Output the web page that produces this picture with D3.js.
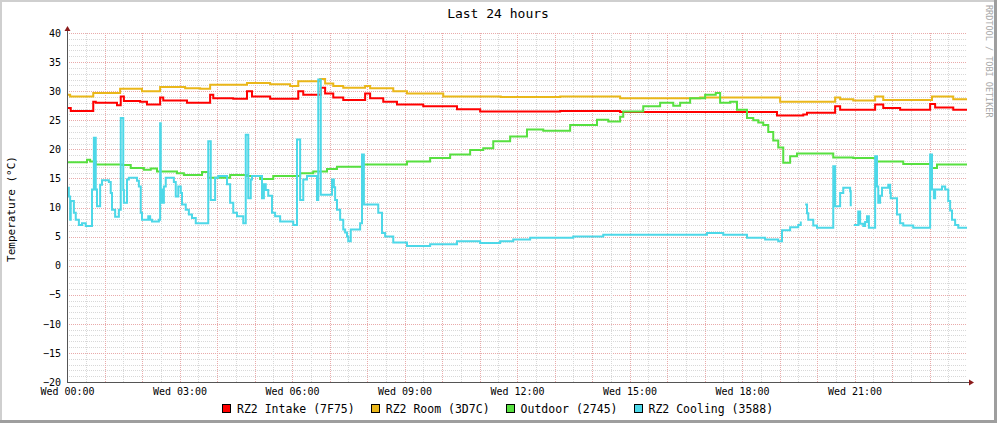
<!DOCTYPE html>
<html>
<head>
<meta charset="utf-8">
<script src="https://cdn.jsdelivr.net/npm/d3@7"></script>
<style>
  html, body { margin: 0; padding: 0; background: #fff; }
  svg text { font-family: "DejaVu Sans Mono", monospace; }
</style>
</head>
<body>
<svg id="chart" width="997" height="423"></svg>
<script>
// ---------------- DATA ----------------
// times in minutes after Wed 00:00
const title = "Last 24 hours";
const yAxisTitle = "Temperature (°C)";
const sideText = "RRDTOOL / TOBI OETIKER";
const seriesNames = ["RZ2 Intake (7F75)", "RZ2 Room (3D7C)", "Outdoor (2745)", "RZ2 Cooling (3588)"];
const yTickValues = [-20, -15, -10, -5, 0, 5, 10, 15, 20, 25, 30, 35, 40];
const xTickHours = [0, 3, 6, 9, 12, 15, 18, 21];

const intakeT = [0,6,42,46,80,86,91,117,128,149,154,192,213,229,234,266,288,296,325,370,378,406,413,426,442,477,485,506,528,570,624,661,725,789,853,885,1013,1136,1178,1184,1229,1237,1293,1306,1333,1381,1389,1418,1440];
const intakeV = [27.1,26.6,28.2,28.0,27.6,29.1,28.3,28.2,27.7,28.9,28.4,28.0,28.0,29.4,28.8,28.7,30.0,29.1,28.7,30.0,29.4,30.6,29.6,28.9,28.5,29.6,28.8,28.2,27.7,27.4,26.9,26.5,26.5,26.6,26.6,26.4,26.4,25.8,26.0,26.3,27.4,26.8,27.7,27.1,26.8,27.8,27.2,26.8,26.8];

const roomT = [0,5,42,85,120,149,189,213,229,288,325,357,370,405,413,426,442,477,485,522,544,602,694,789,885,1013,1141,1229,1237,1258,1293,1306,1384,1418,1440];
const roomV = [29.4,29.1,29.7,30.4,30.0,30.7,30.5,30.4,31.1,31.4,31.2,30.9,31.7,32.1,31.3,30.9,30.6,30.9,30.5,30.0,29.6,29.1,29.0,29.1,28.8,28.9,28.2,28.9,28.6,28.4,29.1,28.5,29.1,28.6,28.6];

const outdoorT = [0,32,37,46,88,102,123,134,144,176,187,216,226,261,288,309,330,373,394,416,432,474,544,581,613,645,666,682,709,736,762,805,848,866,885,890,922,949,970,981,997,1021,1038,1045,1061,1072,1088,1098,1106,1114,1122,1130,1138,1146,1157,1168,1226,1258,1296,1338,1384,1392,1440];
const outdoorV = [17.8,18.2,17.9,17.4,17.3,16.8,16.5,16.7,16.2,15.9,15.6,16.1,15.1,15.6,15.4,14.9,15.4,15.9,16.2,16.6,17.0,17.4,17.9,18.5,19.1,19.9,20.2,21.4,22.2,23.4,23.2,24.2,25.1,24.8,25.6,26.5,27.4,28.0,27.5,28.0,28.8,29.4,29.7,28.0,28.2,26.8,25.4,25.0,24.6,24.2,23.0,21.5,20.3,17.7,18.8,19.3,18.6,18.5,17.9,17.5,16.8,17.4,17.4];

const coolingT = [0,3,5,6,11,14,19,24,30,40,43,46,48,53,56,67,70,72,77,83,86,90,91,96,99,112,115,118,120,130,133,136,147,149,150,152,155,158,171,174,178,182,184,190,195,200,206,226,230,237,242,256,261,266,272,282,286,290,294,296,312,315,318,322,328,333,341,362,368,373,378,384,400,402,406,424,427,429,432,437,442,445,448,450,454,469,472,475,498,504,509,522,544,581,624,661,693,714,741,810,858,1024,1050,1088,1117,1138,1144,1157,1170,1174,1178,1181,1184,1186,1194,1200,1226,1229,1237,1242,1253,1254,1256,1259,1266,1269,1274,1277,1280,1283,1293,1296,1298,1301,1304,1314,1317,1318,1328,1333,1338,1354,1381,1384,1387,1389,1400,1405,1410,1413,1416,1421,1426,1440];
const coolingV = [13.4,11.9,7.9,11.1,9.1,7.9,7.0,7.3,6.8,13.1,22.0,13.1,10.2,13.9,14.7,14.4,12.5,9.6,8.4,9.6,25.4,13.0,10.8,14.8,15.1,14.6,13.6,9.1,7.9,8.5,7.9,7.6,7.9,24.5,13.1,10.8,13.6,15.1,14.4,11.9,13.6,12.5,10.5,9.6,8.8,8.2,7.3,21.4,11.3,15.1,15.4,14.0,10.8,9.1,8.5,7.3,22.5,11.6,14.8,15.4,11.6,14.0,13.0,12.0,9.1,8.5,7.6,7.0,21.7,11.3,14.8,15.4,11.3,32.0,12.2,14.8,13.5,11.3,9.6,7.9,6.2,5.7,5.0,4.2,6.2,7.3,19.1,10.5,9.1,5.6,5.0,4.0,3.4,3.7,4.2,3.9,4.2,4.5,4.8,5.0,5.3,5.6,5.3,4.8,4.5,4.2,6.1,6.6,7.0,7.6,null,10.5,9.0,7.9,6.9,6.5,17.1,10.2,12.5,13.4,12.8,10.2,null,7.0,9.3,7.2,6.8,7.5,8.5,6.5,18.8,13.6,10.8,12.0,13.4,13.9,12.5,11.6,8.8,7.3,6.9,6.5,19.1,13.1,11.6,13.1,13.6,13.1,11.1,9.5,7.9,7.0,6.5,6.5];

// ---------------- STYLE ----------------
const colors = ["#FF0000", "#EAB71A", "#57E040", "#4DD8E8"];

const W = 997, H = 423;
const plot = { left: 67, right: 967, top: 33, bottom: 382 };

const svg = d3.select("#chart");
const start = new Date(2024, 0, 3, 0, 0, 0); // a Wednesday
const toDate = m => new Date(start.getTime() + m * 60000);

const x = d3.scaleTime().domain([start, toDate(1440)]).range([plot.left, plot.right]);
const y = d3.scaleLinear().domain([-20, 40]).range([plot.bottom, plot.top]);

// background & frame
svg.append("rect").attr("width", W).attr("height", H).attr("fill", "#ffffff");
svg.append("rect").attr("x", 0).attr("y", 0).attr("width", W).attr("height", 2).attr("fill", "#CFCFCF");
svg.append("rect").attr("x", 0).attr("y", 0).attr("width", 2).attr("height", H).attr("fill", "#CFCFCF");
svg.append("rect").attr("x", 0).attr("y", H - 3).attr("width", W).attr("height", 3).attr("fill", "#9E9E9E");
svg.append("rect").attr("x", W - 3).attr("y", 0).attr("width", 3).attr("height", H).attr("fill", "#9E9E9E");

// grid
const grid = svg.append("g").attr("shape-rendering", "crispEdges");
const minorCol = "#D8D8D8";
const majorCol = "#E9AAAA";
d3.range(-20, 41, 1).forEach(v => {
  if (v === -20) return;
  const yy = Math.round(y(v)) + 0.5;
  grid.append("line")
    .attr("x1", plot.left).attr("x2", plot.right)
    .attr("y1", yy).attr("y2", yy)
    .attr("stroke", v % 5 === 0 ? majorCol : minorCol)
    .attr("stroke-dasharray", "1,1");
});
d3.timeMinute.every(30).range(toDate(30), toDate(1440)).forEach(d => {
  const xx = Math.round(x(d)) + 0.5;
  const major = d.getMinutes() === 0;
  grid.append("line")
    .attr("x1", xx).attr("x2", xx)
    .attr("y1", plot.top).attr("y2", plot.bottom)
    .attr("stroke", major ? majorCol : minorCol)
    .attr("stroke-dasharray", "1,1");
});

// series lines
const seriesT = [intakeT, roomT, outdoorT, coolingT];
const seriesV = [intakeV, roomV, outdoorV, coolingV];
const line = d3.line()
  .defined(d => d.v != null)
  .x(d => x(d.t))
  .y(d => y(d.v))
  .curve(d3.curveStepAfter);
seriesT.forEach((ts, i) => {
  const data = ts.map((t, j) => ({ t: toDate(t), v: seriesV[i][j] }));
  svg.append("path")
    .datum(data)
    .attr("fill", "none")
    .attr("stroke", colors[i])
    .attr("stroke-width", 2)
    .attr("stroke-linejoin", "miter")
    .attr("d", line);
});

// axes lines + arrows
const axisCol = "#555555";
const arrowCol = "#8B1A1A";
svg.append("line").attr("x1", plot.left + 0.5).attr("x2", plot.left + 0.5)
  .attr("y1", plot.bottom + 0.5).attr("y2", plot.top - 5)
  .attr("stroke", axisCol).attr("shape-rendering", "crispEdges");
svg.append("line").attr("x1", plot.left).attr("x2", plot.right + 2)
  .attr("y1", plot.bottom + 0.5).attr("y2", plot.bottom + 0.5)
  .attr("stroke", axisCol).attr("shape-rendering", "crispEdges");
svg.append("path")
  .attr("d", `M${plot.left + 0.5 - 3},${plot.top - 2} L${plot.left + 0.5 + 3},${plot.top - 2} L${plot.left + 0.5},${plot.top - 7} Z`)
  .attr("fill", arrowCol);
svg.append("path")
  .attr("d", `M${plot.right + 2},${plot.bottom + 0.5 - 3} L${plot.right + 2},${plot.bottom + 0.5 + 3} L${plot.right + 7},${plot.bottom + 0.5} Z`)
  .attr("fill", arrowCol);

// axis labels via d3 axes
const fmt = d3.timeFormat("%a %H:%M");
const xAxis = d3.axisBottom(x)
  .tickValues(xTickHours.map(h => toDate(h * 60)))
  .tickFormat(fmt)
  .tickSize(0)
  .tickPadding(6);
const gx = svg.append("g").attr("transform", `translate(0,${plot.bottom})`).call(xAxis);
gx.select(".domain").remove();
gx.selectAll("text").attr("font-family", "DejaVu Sans Mono").attr("font-size", 10).attr("fill", "#000");

const yAxis = d3.axisLeft(y).tickValues(yTickValues).tickSize(0).tickPadding(6);
const gy = svg.append("g").attr("transform", `translate(${plot.left},0)`).call(yAxis);
gy.select(".domain").remove();
gy.selectAll("text").attr("font-family", "DejaVu Sans Mono").attr("font-size", 10).attr("fill", "#000");

// title
svg.append("text").attr("x", 498).attr("y", 18).attr("text-anchor", "middle")
  .attr("font-size", 13).attr("fill", "#000").text(title);

// y axis title
svg.append("text").attr("transform", "translate(15,209) rotate(-90)")
  .attr("text-anchor", "middle").attr("font-size", 11).attr("fill", "#000").text(yAxisTitle);

// side text
svg.append("text").attr("transform", "translate(986,5) rotate(90)")
  .attr("font-size", 8.5).attr("fill", "#A8A8A8").text(sideText);

// legend
let lx = 222;
const ly = 413;
seriesNames.forEach((name, i) => {
  svg.append("rect").attr("x", lx + 0.5).attr("y", ly - 8.5).attr("width", 8).attr("height", 8)
    .attr("fill", colors[i]).attr("stroke", "#000").attr("stroke-width", 1)
    .attr("shape-rendering", "crispEdges");
  const t = svg.append("text").attr("x", lx + 15).attr("y", ly)
    .attr("font-size", 11.5).attr("fill", "#000").text(name);
  const w = t.node().getComputedTextLength();
  lx = lx + 15 + w + 16;
});
</script>
</body>
</html>
